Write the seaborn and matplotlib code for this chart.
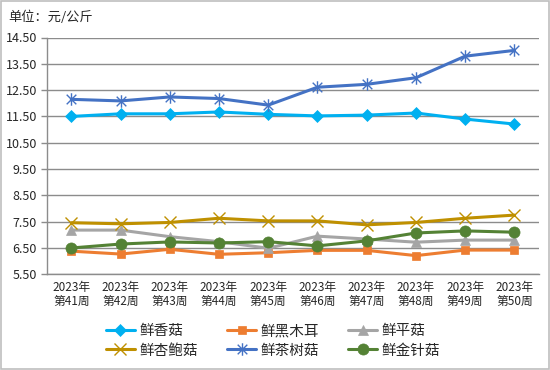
import numpy as np
import pandas as pd
import matplotlib
matplotlib.use("Agg")
import matplotlib.pyplot as plt
from matplotlib.ticker import FixedLocator, FormatStrFormatter
from matplotlib.lines import Line2D
from matplotlib.path import Path
import seaborn as sns

# Datos
semanas = ["2023年\n第41周", "2023年\n第42周", "2023年\n第43周", "2023年\n第44周", "2023年\n第45周",
           "2023年\n第46周", "2023年\n第47周", "2023年\n第48周", "2023年\n第49周", "2023年\n第50周"]
xianggu = [11.50, 11.60, 11.60, 11.67, 11.58, 11.52, 11.55, 11.63, 11.40, 11.21]
heimuer = [6.38, 6.27, 6.45, 6.26, 6.32, 6.41, 6.41, 6.21, 6.42, 6.42]
pinggu = [7.18, 7.18, 6.93, 6.74, 6.49, 6.95, 6.84, 6.72, 6.80, 6.80]
xingbaogu = [7.46, 7.42, 7.47, 7.63, 7.53, 7.53, 7.38, 7.47, 7.63, 7.75]
chashugu = [12.15, 12.09, 12.24, 12.18, 11.93, 12.61, 12.72, 12.97, 13.79, 14.01]
jinzhengu = [6.50, 6.65, 6.73, 6.69, 6.74, 6.58, 6.77, 7.07, 7.15, 7.10]

nombres = ["鲜香菇", "鲜黑木耳", "鲜平菇", "鲜杏鲍菇", "鲜茶树菇", "鲜金针菇"]
series = [xianggu, heimuer, pinggu, xingbaogu, chashugu, jinzhengu]
colores = ["#00B0F0", "#ED7D31", "#A5A5A5", "#BF9000", "#4472C4", "#548235"]

# Marcador estrella tipo Excel (x + linea vertical)
estrella = Path([(-1, -1), (1, 1), (-1, 1), (1, -1), (0, -1.3), (0, 1.3)],
                [Path.MOVETO, Path.LINETO, Path.MOVETO, Path.LINETO, Path.MOVETO, Path.LINETO])
marcadores = ["D", "s", "^", "x", estrella, "o"]
tamanos = [6, 6, 7, 8, 9, 8]

sns.set_style("white")
plt.rcParams['font.family'] = ['Noto Sans CJK SC', 'DejaVu Sans']

fig = plt.figure(figsize=(5.5, 3.7), dpi=100)
ax = fig.add_axes([46.7 / 550, 1 - 274.3 / 370, (539 - 46.7) / 550, (274.3 - 37.5) / 370])

x = np.arange(len(semanas))
handles = []
for nombre, valores, color, m, ms in zip(nombres, series, colores, marcadores, tamanos):
    df = pd.DataFrame({"x": x, "y": valores})
    mew = 1.0 if (m == "x" or isinstance(m, Path)) else 0.5
    sns.lineplot(data=df, x="x", y="y", ax=ax, color=color, linewidth=2.2,
                 marker=m, markersize=ms, markeredgecolor=color, markerfacecolor=color,
                 markeredgewidth=mew)
    handles.append(Line2D([0], [0], color=color, linewidth=2.2, marker=m, markersize=ms,
                          markeredgecolor=color, markerfacecolor=color, markeredgewidth=mew))

ax.set_xlim(-0.5, len(semanas) - 0.5)
ax.set_ylim(5.5, 14.5)
ax.yaxis.set_major_locator(FixedLocator(np.arange(5.5, 14.51, 1.0)))
ax.yaxis.set_major_formatter(FormatStrFormatter("%.2f"))
ax.grid(axis="y", color="#8C8C8C", linewidth=1)
ax.set_axisbelow(True)

ax.set_xticks(x)
ax.set_xticklabels(semanas, fontsize=8.5, linespacing=1.1)
ax.xaxis.set_minor_locator(FixedLocator(np.arange(-0.5, len(semanas), 1.0)))
ax.tick_params(axis="x", which="major", length=0, pad=5)
ax.tick_params(axis="x", which="minor", length=4, color="#8C8C8C", width=1)
ax.tick_params(axis="y", length=4, color="#8C8C8C", width=1, labelsize=9, pad=3, left=True)
ax.set_xlabel("")
ax.set_ylabel("")

for s in ["top", "right"]:
    ax.spines[s].set_visible(False)
for s in ["left", "bottom"]:
    ax.spines[s].set_color("#8C8C8C")
    ax.spines[s].set_linewidth(1)

fig.text(8 / 550, 1 - 17 / 370, "单位：元/公斤", fontsize=9.5, va="center", ha="left")

# Orden de la leyenda por filas (matplotlib llena por columnas)
orden = [0, 3, 1, 4, 2, 5]
fig.legend([handles[i] for i in orden], [nombres[i] for i in orden], loc="center",
           bbox_to_anchor=(273 / 550, 1 - 341 / 370), ncol=3,
           frameon=False, fontsize=10.5, handlelength=2.0, columnspacing=2.0,
           labelspacing=0.35, handletextpad=0.3)

# Borde exterior
fig.patches.append(plt.Rectangle((0.001, 0.002), 0.997, 0.995, transform=fig.transFigure,
                                 fill=False, edgecolor="#BFBFBF", linewidth=1.2))

fig.savefig("out.png", dpi=100)
